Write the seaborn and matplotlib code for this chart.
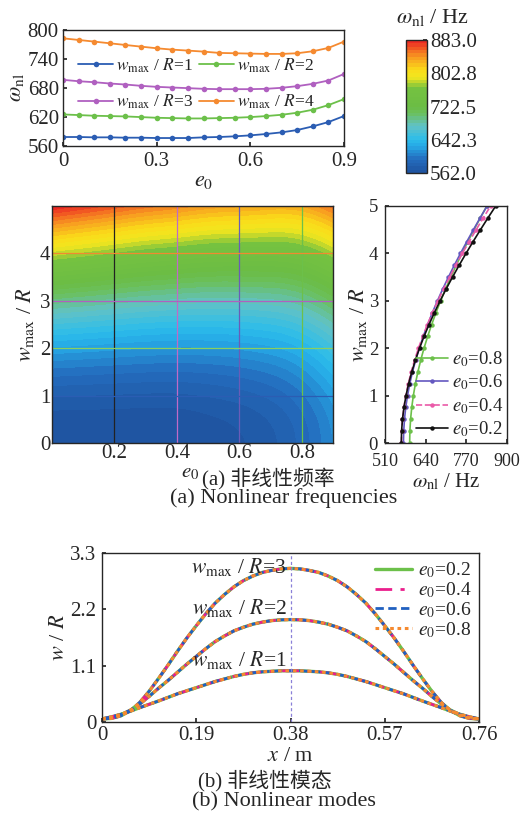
import numpy as np
import matplotlib
matplotlib.use('Agg')
import matplotlib.pyplot as plt
import matplotlib.tri as mtri
import seaborn as sns
from matplotlib.colors import LinearSegmentedColormap

sns.set_theme(style='ticks')
plt.rcParams['font.family'] = ['Liberation Serif', 'Noto Sans CJK SC']
plt.rcParams['mathtext.fontset'] = 'stix'
plt.rcParams['xtick.direction'] = 'in'
plt.rcParams['ytick.direction'] = 'in'
plt.rcParams['axes.linewidth'] = 1.0
plt.rcParams['xtick.major.size'] = 3
plt.rcParams['ytick.major.size'] = 3

# ---------------- data: top-left panel ----------------
e0_top = [0.00, 0.05, 0.10, 0.15, 0.20, 0.25, 0.30, 0.35, 0.40, 0.45,
          0.50, 0.55, 0.60, 0.65, 0.70, 0.75, 0.80, 0.85, 0.90]
omega_R1 = [578.6, 578.6, 577.9, 577.9, 577.2, 577.2, 576.5, 576.5, 576.5, 577.9,
            578.6, 580.0, 582.0, 584.8, 588.2, 593.0, 600.6, 609.5, 622.0]
omega_R2 = [625.3, 624.0, 622.6, 621.9, 621.2, 619.8, 618.4, 617.7, 617.0, 617.0,
            617.7, 618.4, 619.8, 621.9, 624.6, 628.8, 635.0, 644.6, 657.0]
omega_R3 = [696.9, 694.0, 692.0, 689.3, 687.2, 684.5, 682.4, 681.0, 679.7, 678.3,
            677.6, 677.6, 677.6, 678.3, 680.4, 683.8, 688.6, 695.5, 709.0]
omega_R4 = [782.8, 779.4, 776.0, 772.5, 769.0, 765.6, 762.2, 759.4, 757.4, 755.3,
            752.6, 751.9, 751.2, 750.5, 750.5, 751.9, 756.0, 762.9, 776.0]
top_labels = [r'$w_{\mathrm{max}}$ / $R$=1', r'$w_{\mathrm{max}}$ / $R$=2',
              r'$w_{\mathrm{max}}$ / $R$=3', r'$w_{\mathrm{max}}$ / $R$=4']
top_colors = ['#2b5db3', '#6cc04a', '#b060c0', '#f58a30']

# ---------------- data: map ----------------
e0_grid = [0.0, 0.1, 0.2, 0.3, 0.4, 0.5, 0.6, 0.7, 0.8, 0.9]
w_grid = [0.0, 0.5, 1.0, 1.5, 2.0, 2.5, 3.0, 3.5, 4.0, 4.5, 5.0]
omega_map = [
    [562.4, 562.2, 562.1, 561.9, 562.4, 565.1, 568.9, 575.8, 588.8, 610.4],
    [566.5, 566.2, 565.9, 565.6, 565.9, 568.5, 572.2, 578.9, 591.8, 613.3],
    [578.6, 577.9, 577.2, 576.5, 576.5, 578.6, 582.0, 588.2, 600.6, 622.0],
    [598.3, 596.9, 595.5, 594.2, 593.7, 595.0, 597.9, 603.4, 615.1, 636.3],
    [624.8, 622.6, 620.3, 618.1, 616.9, 617.3, 619.5, 624.0, 634.7, 655.7],
    [657.3, 654.1, 650.8, 647.6, 645.6, 644.9, 646.3, 649.6, 659.2, 679.9],
    [695.0, 690.7, 686.2, 681.9, 679.0, 677.0, 677.5, 679.6, 687.9, 708.3],
    [737.1, 731.5, 725.8, 720.3, 716.5, 713.1, 712.7, 713.4, 720.3, 740.5],
    [782.8, 776.0, 769.0, 762.2, 757.4, 752.6, 751.2, 750.5, 756.0, 776.0],
    [831.6, 823.5, 815.2, 807.1, 801.3, 795.0, 792.6, 790.5, 794.5, 814.4],
    [882.9, 873.6, 863.9, 854.5, 847.6, 839.9, 836.4, 832.8, 835.5, 855.2],
]
cbar_ticks = [562.0, 642.3, 722.5, 802.8, 883.0]

# ---------------- data: right panel ----------------
w_right = [0.0, 0.25, 0.5, 0.75, 1.0, 1.25, 1.5, 1.75, 2.0, 2.25, 2.5,
           2.75, 3.0, 3.25, 3.5, 3.75, 4.0, 4.25, 4.5, 4.75, 5.0]
omega_e02 = [562.1, 563.0, 565.9, 570.6, 577.2, 585.5, 595.5, 607.2, 620.3, 634.9, 650.8,
             667.9, 686.2, 705.5, 725.8, 747.0, 769.0, 791.7, 815.2, 839.2, 863.9]
omega_e04 = [562.4, 563.3, 565.9, 570.4, 576.5, 584.3, 593.7, 604.6, 616.9, 630.6, 645.6,
             661.8, 679.0, 697.3, 716.5, 736.5, 757.4, 779.0, 801.3, 824.2, 847.6]
omega_e06 = [568.9, 569.8, 572.2, 576.3, 582.0, 589.2, 597.9, 608.1, 619.5, 632.3, 646.3,
             661.4, 677.5, 694.6, 712.7, 731.5, 751.2, 771.6, 792.6, 814.2, 836.4]
omega_e08 = [588.8, 589.5, 591.8, 595.5, 600.6, 607.1, 615.1, 624.3, 634.7, 646.4, 659.2,
             673.0, 687.9, 703.6, 720.3, 737.8, 756.0, 774.9, 794.5, 814.7, 835.5]

# ---------------- data: bottom panel ----------------
x_mode = [0.000, 0.019, 0.038, 0.057, 0.076, 0.095, 0.114, 0.133, 0.152, 0.171, 0.190,
          0.209, 0.228, 0.247, 0.266, 0.285, 0.304, 0.323, 0.342, 0.361, 0.380,
          0.399, 0.418, 0.437, 0.456, 0.475, 0.494, 0.513, 0.532, 0.551, 0.570,
          0.589, 0.608, 0.627, 0.646, 0.665, 0.684, 0.703, 0.722, 0.741, 0.760]
mode_R1 = [0.06, 0.10, 0.15, 0.21, 0.28, 0.345, 0.41, 0.48, 0.55, 0.61, 0.67,
           0.73, 0.79, 0.84, 0.89, 0.93, 0.96, 0.98, 0.99, 1.00, 1.00,
           1.00, 0.99, 0.98, 0.96, 0.93, 0.89, 0.84, 0.79, 0.73, 0.67,
           0.61, 0.55, 0.48, 0.41, 0.345, 0.28, 0.21, 0.15, 0.10, 0.06]
mode_R2 = [0.06, 0.08, 0.14, 0.23, 0.35, 0.50, 0.66, 0.81, 0.97, 1.13, 1.28,
           1.43, 1.57, 1.68, 1.78, 1.85, 1.91, 1.95, 1.98, 1.995, 2.00,
           1.995, 1.98, 1.95, 1.91, 1.85, 1.78, 1.68, 1.57, 1.43, 1.28,
           1.13, 0.97, 0.81, 0.66, 0.50, 0.35, 0.23, 0.14, 0.08, 0.06]
mode_R3 = [0.06, 0.07, 0.12, 0.22, 0.38, 0.60, 0.85, 1.11, 1.38, 1.64, 1.88,
           2.11, 2.32, 2.49, 2.64, 2.76, 2.85, 2.92, 2.96, 2.99, 3.00,
           2.99, 2.96, 2.92, 2.85, 2.76, 2.64, 2.49, 2.32, 2.11, 1.88,
           1.64, 1.38, 1.11, 0.85, 0.60, 0.38, 0.22, 0.12, 0.07, 0.06]

W, H = 525, 814
fig = plt.figure(figsize=(W / 100, H / 100), dpi=100)


def ax_px(x0, y0, x1, y1):
    return fig.add_axes([x0 / W, 1 - y1 / H, (x1 - x0) / W, (y1 - y0) / H])


TICK = 15

# ---------- top-left ----------
ax1 = ax_px(63, 30, 344, 146)
for vals, lab, col in zip([omega_R1, omega_R2, omega_R3, omega_R4], top_labels, top_colors):
    sns.lineplot(x=e0_top, y=vals, ax=ax1, color=col, marker='o', markersize=4,
                 markeredgewidth=0, linewidth=1.3, label=lab)
ax1.set_xlim(0, 0.9)
ax1.set_ylim(560, 800)
ax1.set_xticks([0, 0.3, 0.6, 0.9])
ax1.set_xticklabels(['0', '0.3', '0.6', '0.9'])
ax1.set_yticks([560, 620, 680, 740, 800])
ax1.tick_params(axis='y', labelsize=TICK, pad=3)
ax1.tick_params(axis='x', labelsize=TICK, pad=4)
ax1.set_xlabel(r'$e_0$', fontsize=16, labelpad=1)
ax1.set_ylabel(r'$\omega_{\mathrm{nl}}$', fontsize=16, labelpad=1)
h, l = ax1.get_legend_handles_labels()
order = [0, 2, 1, 3]
ax1.legend([h[i] for i in order], [l[i] for i in order], loc='center',
           bbox_to_anchor=(0.475, 0.535), ncol=2, frameon=False,
           fontsize=12.5, handlelength=2.0, handletextpad=0.2, columnspacing=0.3,
           labelspacing=1.05, borderpad=0)

# ---------- colormap ----------
cmap = LinearSegmentedColormap.from_list('freq', [
    (0.00, (0.12, 0.32, 0.62)),
    (0.10, (0.14, 0.42, 0.74)),
    (0.20, (0.15, 0.66, 0.90)),
    (0.25, (0.17, 0.74, 0.92)),
    (0.35, (0.38, 0.76, 0.78)),
    (0.45, (0.42, 0.75, 0.36)),
    (0.50, (0.42, 0.74, 0.27)),
    (0.64, (0.46, 0.76, 0.25)),
    (0.72, (0.95, 0.90, 0.12)),
    (0.78, (0.98, 0.86, 0.10)),
    (0.88, (0.97, 0.58, 0.13)),
    (1.00, (0.92, 0.12, 0.14)),
])

# ---------- map ----------
ax2 = ax_px(52, 206, 333, 443)
E, Wm = np.meshgrid(e0_grid, w_grid)
Z = np.array(omega_map)
tri = mtri.Triangulation(E.ravel(), Wm.ravel())
refiner = mtri.UniformTriRefiner(tri)
tri_f, z_f = refiner.refine_field(Z.ravel(), subdiv=3)
z_f = np.clip(z_f, 562.0, 883.0)
levels = np.linspace(562.0, 883.0, 41)
cf = ax2.tricontourf(tri_f, z_f, levels=levels, cmap=cmap, antialiased=False)
for xv, c in zip([0.2, 0.4, 0.6, 0.8], ['#222222', '#c06ac8', '#6a5cb8', '#6cc04a']):
    ax2.axvline(xv, color=c, lw=0.9)
for yv, c in zip([1, 2, 3, 4], ['#2b5db3', '#8ad060', '#b060c0', '#f08a30']):
    ax2.axhline(yv, color=c, lw=0.9)
ax2.set_xlim(0, 0.9)
ax2.set_ylim(0, 5)
ax2.set_xticks([0.2, 0.4, 0.6, 0.8])
ax2.set_yticks([0, 1, 2, 3, 4])
ax2.tick_params(labelsize=TICK, pad=1, right=True, top=True)
ax2.set_xlabel(r'$e_0$', fontsize=15, labelpad=-4)
ax2.xaxis.set_label_coords(0.49, -0.085)
ax2.set_ylabel(r'$w_{\mathrm{max}}$ / $R$', fontsize=16, labelpad=3)

# ---------- colorbar ----------
cax = ax_px(406, 40, 427, 173)
cb = fig.colorbar(cf, cax=cax, ticks=cbar_ticks)
cb.set_ticklabels(['%.1f' % t for t in cbar_ticks])
cax.tick_params(labelsize=TICK, direction='in', length=3, pad=2)
cb.outline.set_linewidth(1.0)
fig.text(432 / W, 1 - 18 / H, r'$\omega_{\mathrm{nl}}$ / Hz', ha='center', va='center',
         fontsize=16)

# ---------- right panel ----------
ax3 = ax_px(385, 206, 507, 443)
right_sets = [(omega_e08, r'$e_0$=0.8', '#6cc04a', '-'),
              (omega_e06, r'$e_0$=0.6', '#6458c0', '-'),
              (omega_e04, r'$e_0$=0.4', '#ea5aa8', '--'),
              (omega_e02, r'$e_0$=0.2', '#111111', '-')]
for vals, lab, col, ls in right_sets:
    sns.lineplot(x=vals, y=w_right, ax=ax3, sort=False, estimator=None, color=col,
                 linestyle=ls, marker='o', markersize=3.2, markeredgewidth=0,
                 linewidth=1.2, label=lab)
ax3.set_xlim(510, 900)
ax3.set_ylim(0, 5)
ax3.set_xticks([510, 640, 770, 900])
ax3.set_yticks([0, 1, 2, 3, 4, 5])
ax3.tick_params(axis='y', labelsize=13.5, pad=5)
ax3.tick_params(axis='x', labelsize=13, pad=7)
ax3.set_xlabel(r'$\omega_{\mathrm{nl}}$ / Hz', fontsize=15, labelpad=1)
ax3.set_ylabel(r'$w_{\mathrm{max}}$ / $R$', fontsize=16, labelpad=0)
ax3.legend(loc='lower right', frameon=False, fontsize=13.5, handlelength=1.7,
           handletextpad=0.2, labelspacing=0.2, borderaxespad=0.1, borderpad=0.1)

# ---------- bottom panel ----------
ax4 = ax_px(102, 553, 479, 722)
bottom_styles = [(r'$e_0$=0.2', '#6cc04a', '-', 2.4),
                 (r'$e_0$=0.4', '#ea1e8c', (0, (6, 3, 1.5, 3)), 2.0),
                 (r'$e_0$=0.6', '#2060c0', (0, (3, 1.6)), 2.0),
                 (r'$e_0$=0.8', '#f58a30', (0, (1.2, 1.2)), 2.2)]
for lab, col, ls, lw in bottom_styles:
    for k, mode in enumerate([mode_R1, mode_R2, mode_R3]):
        sns.lineplot(x=x_mode, y=mode, ax=ax4, color=col, linestyle=ls, linewidth=lw,
                     label=lab if k == 0 else None)
ax4.axvline(0.38, color='#8a80d8', lw=0.9, ls=(0, (2.5, 2)))
ax4.set_xlim(0, 0.76)
ax4.set_ylim(0, 3.3)
ax4.set_xticks([0, 0.19, 0.38, 0.57, 0.76])
ax4.set_xticklabels(['0', '0.19', '0.38', '0.57', '0.76'])
ax4.set_yticks([0, 1.1, 2.2, 3.3])
ax4.set_yticklabels(['0', '1.1', '2.2', '3.3'])
ax4.tick_params(axis='y', labelsize=TICK, pad=4)
ax4.tick_params(axis='x', labelsize=TICK, pad=3)
ax4.set_xlabel(r'$x$ / m', fontsize=16, labelpad=1)
ax4.set_ylabel(r'$w$ / $R$', fontsize=16, labelpad=1)
ax4.legend(loc='upper right', frameon=False, fontsize=14, handlelength=1.9,
           handletextpad=0.3, labelspacing=0.0, borderaxespad=0.3, borderpad=0.1)
for txt, yv in [(r'$w_{\mathrm{max}}$ / $R$=3', 3.02), (r'$w_{\mathrm{max}}$ / $R$=2', 2.23),
                (r'$w_{\mathrm{max}}$ / $R$=1', 1.22)]:
    ax4.text(0.372, yv, txt, ha='right', va='center', fontsize=15.5)

# ---------- captions ----------
fig.text(268 / W, 1 - 479 / H, '(a) 非线性频率', ha='center', va='center', fontsize=15)
fig.text(284 / W, 1 - 498 / H, '(a) Nonlinear frequencies', ha='center', va='center',
         fontsize=16)
fig.text(265 / W, 1 - 781 / H, '(b) 非线性模态', ha='center', va='center', fontsize=15)
fig.text(284 / W, 1 - 802 / H, '(b) Nonlinear modes', ha='center', va='center', fontsize=16)

fig.savefig('out.png', dpi=100)
